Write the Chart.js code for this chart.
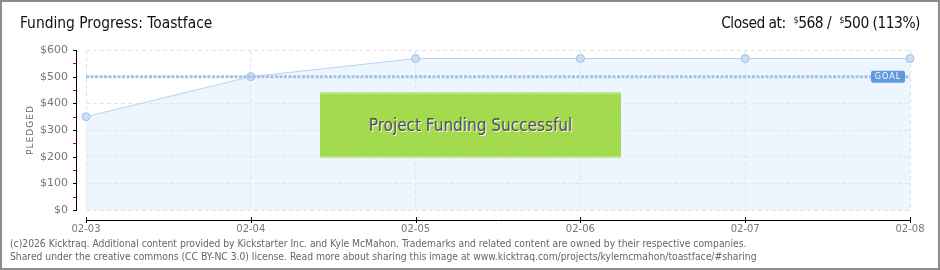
<!DOCTYPE html>
<html lang="en">
<head>
    <meta charset="UTF-8">
    <title>Funding Progress: Toastface</title>
    <script src="https://cdn.jsdelivr.net/npm/chart.js"></script>
    <style>
        body {
            margin: 0;
            background: #ffffff;
        }

        /* Outer frame */
        .frame {
            position: relative;
            width: 940px;
            height: 270px;
            box-sizing: border-box;
            border: 2px solid #8c8c8c;
            overflow: hidden;
        }

        canvas {
            position: absolute;
            left: -2px;
            top: -2px;
        }

        .title {
            position: absolute;
            left: 18px;
            top: 12px;
            font-family: "DejaVu Sans Condensed", sans-serif;
            font-size: 15.4px;
            color: #111;
        }

        .closed {
            position: absolute;
            right: 18px;
            top: 12px;
            font-family: "DejaVu Sans Condensed", sans-serif;
            font-size: 15.4px;
            letter-spacing: -0.5px;
            color: #111;
        }

        .closed sup {
            font-size: 9px;
            vertical-align: 5px;
            margin-left: 4px;
        }

        /* Success banner */
        .success {
            position: absolute;
            left: 318px;
            top: 90px;
            width: 301px;
            height: 66px;
            box-sizing: border-box;
            background: repeating-linear-gradient(135deg, #a5dc50 0px, #a5dc50 2px, #a1d94c 2px, #a1d94c 4px);
            border-top: 2px solid #bfe785;
            border-bottom: 2px solid #bfe785;
            text-align: center;
            line-height: 62px;
            font-family: "DejaVu Sans Condensed", sans-serif;
            font-size: 17px;
            color: #505050;
            text-shadow: 1px 1px 0 #ffffff;
        }

        .footer {
            position: absolute;
            left: 8px;
            top: 235px;
            font-family: "DejaVu Sans Condensed", sans-serif;
            font-size: 10.25px;
            line-height: 13px;
            color: #666;
            white-space: nowrap;
        }
    </style>
</head>
<body>

<div class="frame">
    <canvas id="fundingChart" width="940" height="270"></canvas>
    <div class="title">Funding Progress: Toastface</div>
    <div class="closed">Closed at: <sup>$</sup>568 / <sup>$</sup>500 (113%)</div>
    <div class="success">Project Funding Successful</div>
    <div class="footer">
        (c)2026 Kicktraq. Additional content provided by Kickstarter Inc. and Kyle McMahon. Trademarks and related content are owned by their respective companies.<br>
        Shared under the creative commons (CC BY-NC 3.0) license. Read more about sharing this image at www.kicktraq.com/projects/kylemcmahon/toastface/#sharing
    </div>
</div>

<script>
    // chart data
    const days = ["02-03", "02-04", "02-05", "02-06", "02-07", "02-08"];
    const pledged = [350, 500, 568, 568, 568, 568];
    const goal = 500;
    const yTicks = [0, 100, 200, 300, 400, 500, 600];

    // axis lines sit a little away from the plot area, like the original
    const axisLines = {
        id: "axisLines",
        afterDraw(chart) {
            const ctx = chart.ctx;
            const area = chart.chartArea;
            const xs = chart.scales.x;
            const ys = chart.scales.y;
            const ax = Math.round(area.left) - 10;
            const ay = Math.round(area.bottom) + 10;

            ctx.save();
            ctx.lineWidth = 1;

            // y axis
            ctx.strokeStyle = "#000";
            ctx.beginPath();
            ctx.moveTo(ax + 0.5, Math.round(ys.getPixelForValue(600)));
            ctx.lineTo(ax + 0.5, Math.round(ys.getPixelForValue(0)) + 1);
            ctx.stroke();
            yTicks.forEach(v => {
                const y = Math.round(ys.getPixelForValue(v)) + 0.5;
                ctx.strokeStyle = "#000";
                ctx.beginPath();
                ctx.moveTo(ax - 3, y);
                ctx.lineTo(ax + 1, y);
                ctx.stroke();
                if (v < 600) {
                    const ym = Math.round(ys.getPixelForValue(v + 50)) + 0.5;
                    ctx.strokeStyle = "#e00000";
                    ctx.beginPath();
                    ctx.moveTo(ax - 3, ym);
                    ctx.lineTo(ax, ym);
                    ctx.stroke();
                }
            });

            // x axis
            ctx.strokeStyle = "#000";
            ctx.beginPath();
            ctx.moveTo(Math.round(xs.getPixelForValue(0)), ay + 0.5);
            ctx.lineTo(Math.round(xs.getPixelForValue(days.length - 1)) + 1, ay + 0.5);
            ctx.stroke();
            days.forEach((d, i) => {
                const x = Math.round(xs.getPixelForValue(i)) + 0.5;
                ctx.beginPath();
                ctx.moveTo(x, ay - 3);
                ctx.lineTo(x, ay + 3);
                ctx.stroke();
            });

            // y axis caption
            ctx.fillStyle = "#666";
            ctx.font = "9px 'DejaVu Sans'";
            ctx.textAlign = "center";
            ctx.textBaseline = "middle";
            ctx.translate(31, (area.top + area.bottom) / 2);
            ctx.rotate(-Math.PI / 2);
            ctx.letterSpacing = "1px";
            ctx.fillText("PLEDGED", 0, 0);
            ctx.restore();
        }
    };

    // little "GOAL" tag on the right end of the goal line
    const goalTag = {
        id: "goalTag",
        afterDatasetsDraw(chart) {
            const ctx = chart.ctx;
            const area = chart.chartArea;
            const y = chart.scales.y.getPixelForValue(goal);
            const w = 34, h = 12;
            const x = area.right - w - 5;

            ctx.save();
            ctx.fillStyle = "#5d9ade";
            ctx.beginPath();
            ctx.roundRect(x, y - h / 2, w, h, 2);
            ctx.fill();
            ctx.fillStyle = "#fff";
            ctx.font = "8px 'DejaVu Sans'";
            ctx.letterSpacing = "1px";
            ctx.textAlign = "center";
            ctx.textBaseline = "middle";
            ctx.fillText("GOAL", x + w / 2, y + 0.5);
            ctx.restore();
        }
    };

    const gridStyle = {
        color: "#e2e2e2",
        drawTicks: false
    };

    new Chart(document.getElementById("fundingChart"), {
        type: "line",
        data: {
            labels: days,
            datasets: [
                {
                    label: "Goal",
                    data: days.map(() => goal),
                    borderColor: "#a3c2e8",
                    borderWidth: 3,
                    borderDash: [3, 1.5],
                    pointRadius: 0,
                    fill: false,
                    clip: false,
                    order: 0
                },
                {
                    label: "Pledged",
                    data: pledged,
                    borderColor: "#b5d3f2",
                    borderWidth: 1,
                    backgroundColor: "rgba(214, 232, 252, 0.45)",
                    fill: "origin",
                    tension: 0,
                    pointRadius: 4,
                    pointBackgroundColor: "#cadff8",
                    pointBorderColor: "#9dbfe6",
                    pointBorderWidth: 1,
                    clip: false,
                    order: 1
                }
            ]
        },
        options: {
            responsive: false,
            animation: false,
            events: [],
            layout: {
                padding: { left: 10, right: 30, top: 50, bottom: 30 }
            },
            plugins: {
                legend: { display: false },
                tooltip: { enabled: false }
            },
            scales: {
                x: {
                    offset: false,
                    grid: gridStyle,
                    border: { display: false, dash: [4, 3] },
                    ticks: {
                        padding: 13,
                        color: "#777",
                        font: { family: "DejaVu Sans", size: 10 },
                        maxRotation: 0
                    },
                    afterFit(scale) { scale.height = 30; }
                },
                y: {
                    min: 0,
                    max: 600,
                    grid: gridStyle,
                    border: { display: false, dash: [4, 3] },
                    ticks: {
                        stepSize: 100,
                        padding: 18,
                        color: "#777",
                        font: { family: "DejaVu Sans", size: 11 },
                        callback: v => "$" + v
                    },
                    afterFit(scale) { scale.width = 76; }
                }
            }
        },
        plugins: [axisLines, goalTag]
    });
</script>

</body>
</html>
